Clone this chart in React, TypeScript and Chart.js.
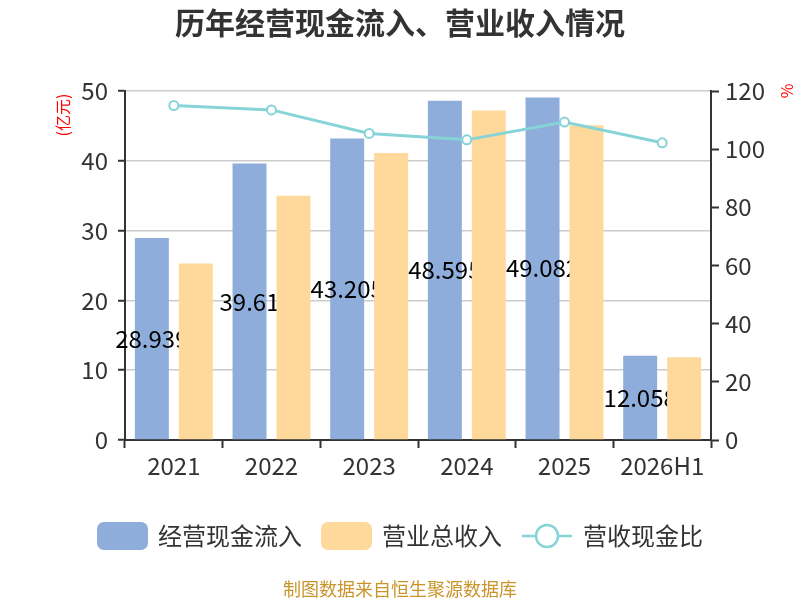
import React, { useRef, useEffect } from 'react';
import { Chart, registerables } from 'chart.js';

Chart.register(...registerables);

const categories = ['2021', '2022', '2023', '2024', '2025', '2026H1'];
const cashInflow = [28.939, 39.61, 43.205, 48.595, 49.082, 12.058];
const revenue = [25.3, 35.0, 41.1, 47.2, 45.1, 11.85];
const cashRatio = [115.0, 113.5, 105.4, 103.2, 109.3, 102.2];

const FONT = '"Noto Sans CJK SC", "Noto Sans", sans-serif';
const BLUE = '#8eaddb';
const ORANGE = '#fed99b';
const TEAL = '#86d4d8';
const AXIS = '#333333';

const decorPlugin = {
  id: 'decor',
  afterDatasetsDraw(chart: any) {
    // value labels on the blue bars, hidden behind the orange bar beside them
    const ctx = chart.ctx;
    const blue = chart.getDatasetMeta(0).data;
    const orange = chart.getDatasetMeta(1).data;
    ctx.save();
    ctx.font = `24px ${FONT}`;
    ctx.fillStyle = '#000';
    ctx.textAlign = 'center';
    ctx.textBaseline = 'middle';
    blue.forEach((bar: any, i: number) => {
      const o = orange[i];
      ctx.save();
      ctx.beginPath();
      ctx.rect(0, 0, o.x - o.width / 2, chart.height);
      ctx.clip();
      ctx.fillText(String(cashInflow[i]), bar.x, (bar.y + bar.base) / 2);
      ctx.restore();
    });
    ctx.restore();
  },
  afterDraw(chart: any) {
    const ctx = chart.ctx;
    ctx.save();
    // title
    ctx.fillStyle = '#333';
    ctx.font = `bold 30px ${FONT}`;
    ctx.textAlign = 'center';
    ctx.textBaseline = 'middle';
    ctx.fillText('历年经营现金流入、营业收入情况', 400, 23);

    // axis names
    ctx.fillStyle = '#ff0000';
    ctx.font = `16px ${FONT}`;
    ctx.save();
    ctx.translate(63, 115);
    ctx.rotate(-Math.PI / 2);
    ctx.fillText('(亿元)', 0, 0);
    ctx.restore();
    ctx.save();
    ctx.translate(787, 91);
    ctx.rotate(-Math.PI / 2);
    ctx.fillText('%', 0, 0);
    ctx.restore();

    // legend
    const ly = 536;
    ctx.font = `24px ${FONT}`;
    ctx.textAlign = 'left';
    ctx.fillStyle = BLUE;
    ctx.beginPath();
    ctx.roundRect(97, 522, 51, 28, 7);
    ctx.fill();
    ctx.fillStyle = '#333';
    ctx.fillText('经营现金流入', 158, ly);

    ctx.fillStyle = ORANGE;
    ctx.beginPath();
    ctx.roundRect(321, 522, 51, 28, 7);
    ctx.fill();
    ctx.fillStyle = '#333';
    ctx.fillText('营业总收入', 382, ly);

    ctx.strokeStyle = TEAL;
    ctx.lineWidth = 2.5;
    ctx.beginPath();
    ctx.moveTo(522, ly);
    ctx.lineTo(572, ly);
    ctx.stroke();
    ctx.beginPath();
    ctx.arc(547, ly, 11, 0, Math.PI * 2);
    ctx.fillStyle = '#fff';
    ctx.fill();
    ctx.stroke();
    ctx.fillStyle = '#333';
    ctx.fillText('营收现金比', 583, ly);

    // source
    ctx.fillStyle = '#c9952a';
    ctx.font = `18px ${FONT}`;
    ctx.textAlign = 'center';
    ctx.fillText('制图数据来自恒生聚源数据库', 400, 589);
    ctx.restore();
  },
};

const App: React.FC = () => {
  const canvasRef = useRef<HTMLCanvasElement | null>(null);

  useEffect(() => {
    if (!canvasRef.current) return;
    const tickFont = { family: FONT, size: 24 };

    const chart = new Chart(canvasRef.current, {
      type: 'bar',
      data: {
        labels: categories,
        datasets: [
          {
            type: 'bar',
            label: '经营现金流入',
            data: cashInflow,
            backgroundColor: BLUE,
            categoryPercentage: 0.9,
            barPercentage: 0.773,
            yAxisID: 'y',
          },
          {
            type: 'bar',
            label: '营业总收入',
            data: revenue,
            backgroundColor: ORANGE,
            categoryPercentage: 0.9,
            barPercentage: 0.773,
            yAxisID: 'y',
          },
          {
            type: 'line',
            label: '营收现金比',
            data: cashRatio,
            borderColor: TEAL,
            borderWidth: 3,
            pointRadius: 4.5,
            pointBackgroundColor: '#fff',
            pointBorderColor: TEAL,
            pointBorderWidth: 2,
            tension: 0,
            yAxisID: 'y1',
            order: -1,
          } as any,
        ],
      },
      options: {
        animation: false,
        responsive: false,
        layout: { padding: { top: 91, bottom: 120, left: 0, right: 0 } },
        plugins: {
          legend: { display: false },
          tooltip: { enabled: false },
        },
        scales: {
          x: {
            grid: {
              offset: true,
              drawOnChartArea: false,
              tickLength: 8,
              tickColor: AXIS,
              tickWidth: 2,
            },
            border: { color: AXIS, width: 2 },
            ticks: { color: '#333', font: tickFont, padding: 3 },
            afterFit: (scale: any) => {
              scale.height = 40;
            },
          },
          y: {
            position: 'left',
            min: 0,
            max: 50,
            ticks: { stepSize: 10, color: '#333', font: tickFont, padding: 10 },
            grid: {
              color: '#cccccc',
              lineWidth: 1.5,
              tickLength: 7,
              tickColor: AXIS,
              tickWidth: 2,
            },
            border: { color: AXIS, width: 2 },
            afterFit: (scale: any) => {
              scale.width = 125;
            },
          },
          y1: {
            position: 'right',
            min: 0,
            max: 120,
            ticks: { stepSize: 20, color: '#333', font: tickFont, padding: 6 },
            grid: {
              drawOnChartArea: false,
              tickLength: 8,
              tickColor: AXIS,
              tickWidth: 2,
            },
            border: { color: AXIS, width: 2 },
            afterFit: (scale: any) => {
              scale.width = 89;
            },
          },
        },
      },
      plugins: [decorPlugin],
    });

    return () => {
      chart.destroy();
    };
  }, []);

  return (
    <div style={{ position: 'fixed', left: 0, top: 0, width: 800, height: 600, background: '#fff' }}>
      <canvas ref={canvasRef} width={800} height={600} />
    </div>
  );
};

export default App;
